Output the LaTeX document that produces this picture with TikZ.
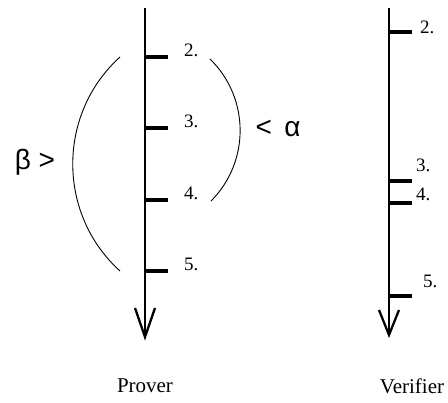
\documentclass[tikz,border=0pt]{standalone}
\usepackage{fontspec}
\setmainfont{Liberation Serif}
\newfontfamily\symf{Liberation Sans}
\begin{document}
\begin{tikzpicture}[x=1pt,y=-1pt,
  axisline/.style={line width=2.3pt},
  tickline/.style={line width=3.3pt},
  headline/.style={line width=2.3pt, line join=miter},
  arcline/.style={line width=0.9pt},
  numlabel/.style={anchor=base west, inner sep=0pt, font=\fontsize{19}{19}\selectfont},
  partylabel/.style={inner sep=0pt, font=\fontsize{21}{21}\selectfont},
  greeklabel/.style={inner sep=0pt, font=\symf\fontsize{28}{28}\selectfont}]
\useasboundingbox (0,0) rectangle (448,403);
% left axis (Prover)
\coordinate (Ltop) at (145,8);
\coordinate (Ltip) at (145,337);
\coordinate (Lh1) at (135,308);
\coordinate (Lh2) at (155,308);
\draw[axisline] (Ltop) -- (Ltip);
\draw[headline] (Lh1) -- (Ltip) -- (Lh2);
\foreach \n/\y in {2/57,3/128,4/200,5/271}{
  \coordinate (L\n a) at (145,\y);
  \coordinate (L\n b) at (168,\y);
  \draw[tickline] (L\n a) -- (L\n b);
  \node[numlabel] (Lt\n) at (184,\y) {\n.};
}
% right axis (Verifier)
\coordinate (Rtop) at (389,8);
\coordinate (Rtip) at (389,335);
\coordinate (Rh1) at (379,310);
\coordinate (Rh2) at (399,310);
\draw[axisline] (Rtop) -- (Rtip);
\draw[headline] (Rh1) -- (Rtip) -- (Rh2);
\foreach \n/\y in {2/32,3/181,4/203,5/296}{
  \coordinate (R\n a) at (389,\y);
  \coordinate (R\n b) at (412,\y);
  \draw[tickline] (R\n a) -- (R\n b);
}
\node[numlabel] (Rt2) at (420,34) {2.};
\node[numlabel] (Rt3) at (416,172) {3.};
\node[numlabel] (Rt4) at (416,201) {4.};
\node[numlabel] (Rt5) at (423,288) {5.};
% arcs
\coordinate (Ba) at (120,57);
\coordinate (Bb) at (120,271);
\draw[arcline] (Ba) .. controls (57,114) and (57,214) .. (Bb);
\coordinate (Aa) at (210,59);
\coordinate (Ab) at (211,201);
\draw[arcline] (Aa) .. controls (250,98) and (250,162) .. (Ab);
% greek labels
\node[greeklabel] (beta) at (35,162) {β >};
\node[greeklabel] (alpha) at (278,128) {< \,α};
% party labels
\node[partylabel] (prover) at (145,386) {Prover};
\node[partylabel] (verifier) at (412,386) {Verifier};
\end{tikzpicture}
\end{document}
